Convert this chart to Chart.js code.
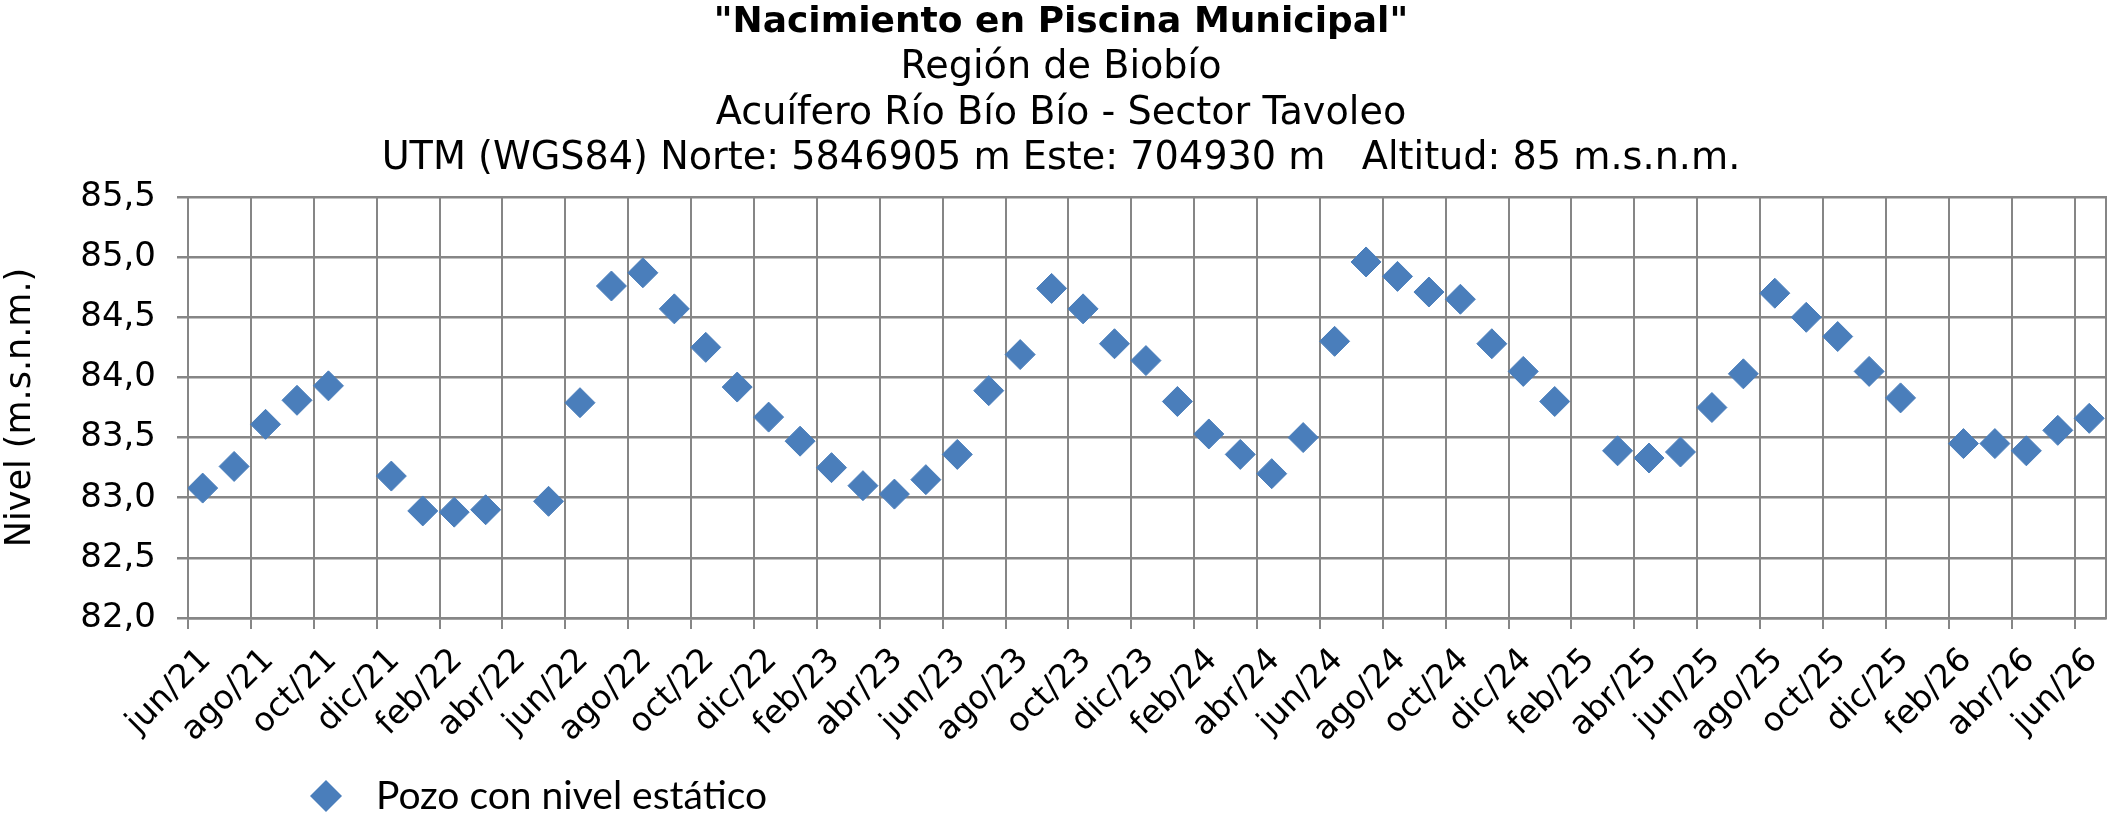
<!DOCTYPE html>
<html lang="es">
<head>
<meta charset="utf-8">
<title>Nacimiento en Piscina Municipal</title>
<script src="https://cdn.jsdelivr.net/npm/chart.js"></script>
<style>
  html, body { margin: 0; padding: 0; background: #fff; }
  canvas { display: block; }
</style>
</head>
<body>
<canvas id="myChart" width="2122" height="818"></canvas>
<script>
// fechas de medicion (aprox. mitad de mes) y nivel estatico en m.s.n.m.
let fechas = [
    '2021-06-15', '2021-07-15', '2021-08-15', '2021-09-15', '2021-10-15',
    '2021-12-15', '2022-01-15', '2022-02-15', '2022-03-15',
    '2022-05-15', '2022-06-15', '2022-07-15', '2022-08-15', '2022-09-15', '2022-10-15',
    '2022-11-15', '2022-12-15', '2023-01-15', '2023-02-15', '2023-03-15', '2023-04-15',
    '2023-05-15', '2023-06-15', '2023-07-15', '2023-08-15', '2023-09-15', '2023-10-15',
    '2023-11-15', '2023-12-15', '2024-01-15', '2024-02-15', '2024-03-15', '2024-04-15',
    '2024-05-15', '2024-06-15', '2024-07-15', '2024-08-15', '2024-09-15', '2024-10-15',
    '2024-11-15', '2024-12-15', '2025-01-15',
    '2025-03-15', '2025-04-15', '2025-05-15', '2025-06-15', '2025-07-15', '2025-08-15',
    '2025-09-15', '2025-10-15', '2025-11-15', '2025-12-15',
    '2026-02-15', '2026-03-15', '2026-04-15', '2026-05-15', '2026-06-15'
];

let niveles = [
    83.08, 83.26, 83.61, 83.81, 83.93,
    83.18, 82.89, 82.88, 82.90,
    82.97, 83.79, 84.76, 84.87, 84.57, 84.25,
    83.92, 83.67, 83.47, 83.25, 83.10, 83.03,
    83.15, 83.36, 83.89, 84.19, 84.74, 84.57,
    84.28, 84.14, 83.80, 83.53, 83.36, 83.20,
    83.50, 84.30, 84.96, 84.84, 84.71, 84.65,
    84.28, 84.05, 83.80,
    83.39, 83.33, 83.38, 83.75, 84.03, 84.70,
    84.50, 84.34, 84.05, 83.83,
    83.45, 83.45, 83.39, 83.56, 83.66
];

let etiquetasX = [
    'jun/21', 'ago/21', 'oct/21', 'dic/21', 'feb/22', 'abr/22', 'jun/22', 'ago/22',
    'oct/22', 'dic/22', 'feb/23', 'abr/23', 'jun/23', 'ago/23', 'oct/23', 'dic/23',
    'feb/24', 'abr/24', 'jun/24', 'ago/24', 'oct/24', 'dic/24', 'feb/25', 'abr/25',
    'jun/25', 'ago/25', 'oct/25', 'dic/25', 'feb/26', 'abr/26', 'jun/26'
];

let etiquetasY = ['82,0', '82,5', '83,0', '83,5', '84,0', '84,5', '85,0', '85,5'];

let titulo = '"Nacimiento en Piscina Municipal"';
let subtitulo = [
    'Región de Biobío',
    'Acuífero Río Bío Bío - Sector Tavoleo',
    'UTM (WGS84) Norte: 5846905 m Este: 704930 m   Altitud: 85 m.s.n.m.'
];

let gridColor = '#868686';
let markerColor = '#4a7ebb';

// meses desde jun/21 (el eje x es lineal en meses)
function mesesDesdeInicio(fecha){
    let p = fecha.split('-').map(Number);
    return (p[0] - 2021) * 12 + (p[1] - 6) + (p[2] - 1) / 30;
}

let puntos = fechas.map((f, i) => ({ x: mesesDesdeInicio(f), y: niveles[i] }));

// leyenda abajo a la izquierda, como en la planilla
const leyendaAbajo = {
    id: 'leyendaAbajo',
    afterDraw(chart){
        const ds = chart.data.datasets[0];
        const ctx = chart.ctx;
        const x = chart.chartArea.left + 138;
        const y = chart.height - 22;
        const r = 16;
        ctx.save();
        ctx.fillStyle = ds.backgroundColor;
        ctx.beginPath();
        ctx.moveTo(x, y - r);
        ctx.lineTo(x + r, y);
        ctx.lineTo(x, y + r);
        ctx.lineTo(x - r, y);
        ctx.closePath();
        ctx.fill();
        ctx.fillStyle = '#000';
        ctx.font = '39px Lato';
        ctx.textBaseline = 'middle';
        ctx.textAlign = 'left';
        ctx.fillText(ds.label, x + 50, y);
        ctx.restore();
    }
};

let ctx = document.getElementById('myChart').getContext('2d');

let myChart = new Chart(ctx, {
    type: 'scatter',
    data: {
        datasets: [{
            label: 'Pozo con nivel estático',
            data: puntos,
            backgroundColor: markerColor,
            borderColor: markerColor,
            pointStyle: 'rectRot',
            pointRadius: 15,
            pointBorderWidth: 1,
            showLine: false
        }]
    },
    options: {
        responsive: false,
        animation: false,
        devicePixelRatio: 1,
        layout: { padding: 0 },
        plugins: {
            legend: { display: false },
            tooltip: { enabled: false },
            title: {
                display: true,
                text: titulo,
                color: '#000',
                font: { family: 'DejaVu Sans', size: 36, weight: 'bold', lineHeight: '45.5px' },
                padding: { top: 0, bottom: 0 }
            },
            subtitle: {
                display: true,
                text: subtitulo,
                color: '#000',
                font: { family: 'DejaVu Sans', size: 38.2, weight: 'normal', lineHeight: '45.5px' },
                padding: { top: 0, bottom: 15 }
            }
        },
        scales: {
            x: {
                type: 'linear',
                min: 0,
                max: 61,
                afterBuildTicks: (scale) => {
                    scale.ticks = etiquetasX.map((_, i) => ({ value: i * 2 }));
                },
                afterFit: (scale) => { scale.height = 200; },
                ticks: {
                    autoSkip: false,
                    maxRotation: 45,
                    minRotation: 45,
                    padding: 12,
                    labelOffset: 18,
                    color: '#000',
                    font: { family: 'DejaVu Sans', size: 33 },
                    callback: (value, index) => etiquetasX[index]
                },
                grid: { color: gridColor, lineWidth: 2, tickLength: 11, tickColor: gridColor },
                border: { display: true, color: gridColor, width: 2.5 }
            },
            y: {
                min: 82,
                max: 85.5,
                afterBuildTicks: (scale) => {
                    scale.ticks = etiquetasY.map((t) => ({ value: Number(t.replace(',', '.')) }));
                },
                afterFit: (scale) => { scale.width = 188; },
                ticks: {
                    padding: 21,
                    color: '#000',
                    font: { family: 'DejaVu Sans', size: 34 },
                    callback: (value, index) => etiquetasY[index]
                },
                grid: { color: gridColor, lineWidth: 2.5, tickLength: 11, tickColor: gridColor },
                border: { display: true, color: gridColor, width: 2 },
                title: {
                    display: true,
                    text: 'Nivel (m.s.n.m.)',
                    color: '#000',
                    font: { family: 'DejaVu Sans', size: 35 },
                    padding: { top: 0, bottom: 0 }
                }
            },
            borde: {
                type: 'linear',
                position: 'right',
                afterFit: (scale) => { scale.width = 5; },
                ticks: { display: false },
                grid: { display: false, drawTicks: false },
                border: { display: true, color: gridColor, width: 2 }
            }
        }
    },
    plugins: [leyendaAbajo]
});
</script>
</body>
</html>
